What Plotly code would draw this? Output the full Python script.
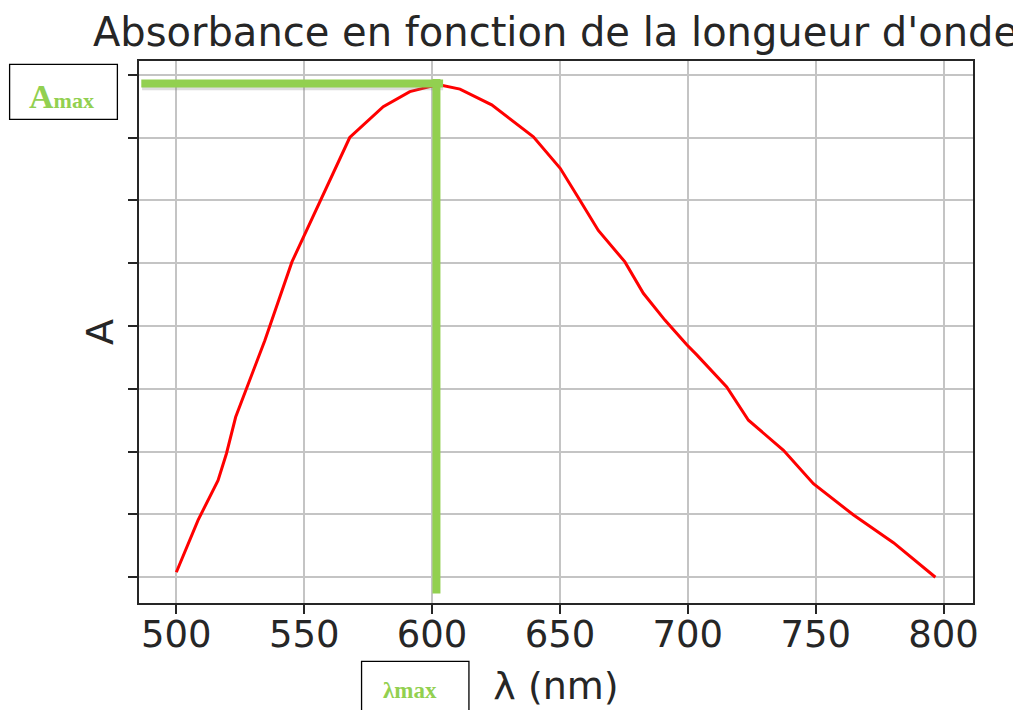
import plotly.graph_objects as go

# ---- data ----
wavelength_nm = [500, 508.5, 516.3, 519.6, 523.2, 534.6, 545.2, 556.1, 567.8, 580.9,
                 591.3, 599.1, 603.7, 610.9, 623.3, 639.6, 650.1, 657.8, 665.0, 675.4,
                 682.6, 691.1, 699.6, 703.5, 715.2, 723.7, 737.4, 749.1, 764.8, 780.4, 796.8]
absorbance = [0.008, 0.091, 0.154, 0.197, 0.255, 0.377, 0.502, 0.598, 0.700, 0.749,
              0.773, 0.781, 0.783, 0.777, 0.752, 0.701, 0.651, 0.600, 0.552, 0.502,
              0.452, 0.409, 0.370, 0.354, 0.303, 0.250, 0.202, 0.149, 0.099, 0.055, 0.000]
x_ticks = [500, 550, 600, 650, 700, 750, 800]
y_ticks = [0.0, 0.1, 0.2, 0.3, 0.4, 0.5, 0.6, 0.7, 0.8]
lambda_max = 601.7
a_max = 0.786

title_text = "Absorbance en fonction de la longueur d'onde"
x_label = "λ (nm)"
y_label = "A"

GREEN = "#92D050"
OFF = 8  # browser default body margin
W, H = 1021 - OFF, 710 - OFF
# plot area in reference (window) pixels
PL, PR, PT, PB = 139.3, 972.7, 61.0, 602.7


def px(xp):
    return (xp - PL) / (PR - PL)


def py(yp):
    return (PB - yp) / (PB - PT)


fig = go.Figure()
fig.add_trace(go.Scatter(x=wavelength_nm, y=absorbance, mode="lines",
                         line=dict(color="#ff0000", width=3), showlegend=False,
                         hoverinfo="skip"))

axis_common = dict(showline=True, linecolor="#262626", linewidth=2, mirror=True,
                   showgrid=True, gridcolor="#c4c4c4", gridwidth=2, zeroline=False,
                   ticks="outside", ticklen=9, tickwidth=2, tickcolor="#262626",
                   automargin=False)

fig.update_xaxes(range=[485.4, 811.5], tickvals=x_ticks, ticklabelstandoff=-11,
                 tickfont=dict(family="DejaVu Sans", size=37, color="#262626"),
                 title=dict(text=x_label, font=dict(family="DejaVu Sans", size=38, color="#262626"),
                            standoff=17),
                 **axis_common)
fig.update_yaxes(range=[-0.041, 0.8218], tickvals=y_ticks, showticklabels=False,
                 title=dict(text=y_label, font=dict(family="DejaVu Sans", size=38, color="#262626"),
                            standoff=3),
                 **axis_common)

shapes = []
# faint shadow under horizontal green line
shapes.append(dict(type="line", xref="x", yref="y", x0=486.6, x1=604.3,
                   y0=a_max - 0.006, y1=a_max - 0.006,
                   line=dict(color="rgba(120,120,120,0.25)", width=6), layer="above"))
shapes.append(dict(type="line", xref="x", yref="y", x0=486.3, x1=604.3, y0=a_max, y1=a_max,
                   line=dict(color=GREEN, width=8), layer="above"))
shapes.append(dict(type="line", xref="x", yref="y", x0=lambda_max, x1=lambda_max,
                   y0=a_max + 0.007, y1=-0.026,
                   line=dict(color=GREEN, width=8), layer="above"))
# label boxes
shapes.append(dict(type="rect", xref="paper", yref="paper",
                   x0=px(10), x1=px(117.7), y0=py(119.3), y1=py(64.3),
                   line=dict(color="black", width=1.3), fillcolor="white", layer="above"))
shapes.append(dict(type="rect", xref="paper", yref="paper",
                   x0=px(361.7), x1=px(469), y0=py(725), y1=py(661),
                   line=dict(color="black", width=1.3), fillcolor="white", layer="above"))

annotations = [
    dict(text="<b><span style='font-size:34px'>A</span>max</b>", xref="paper", yref="paper",
         x=px(61.5), y=py(96), xanchor="center", yanchor="middle", showarrow=False,
         font=dict(family="Liberation Serif", size=22, color=GREEN)),
    dict(text="<b>λmax</b>", xref="paper", yref="paper",
         x=px(410), y=py(690), xanchor="center", yanchor="middle", showarrow=False,
         font=dict(family="Liberation Serif", size=23, color=GREEN)),
]

fig.update_layout(
    width=W, height=H,
    margin=dict(l=PL - OFF, r=1021 - PR, t=PT - OFF, b=710 - PB, pad=0),
    paper_bgcolor="white", plot_bgcolor="white",
    title=dict(text=title_text, x=(555.5 - OFF) / W, xanchor="center",
               y=1 - (32 - OFF) / H, yanchor="middle", yref="container",
               font=dict(family="DejaVu Sans", size=40, color="#262626")),
    shapes=shapes, annotations=annotations,
)

fig.write_html("out.html")
